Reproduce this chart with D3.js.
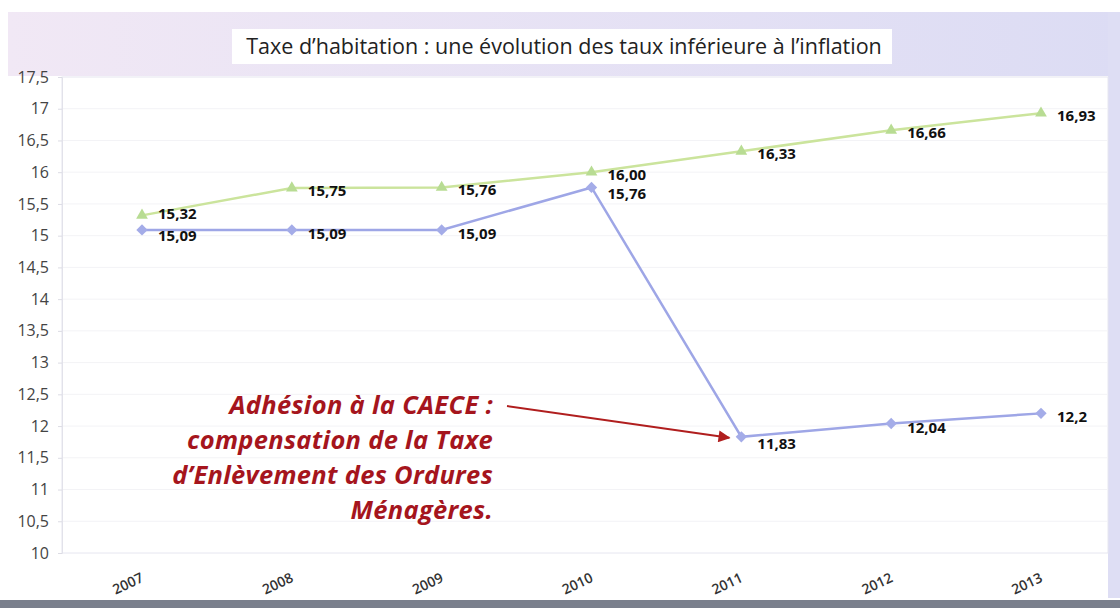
<!DOCTYPE html>
<html>
<head>
<meta charset="utf-8">
<script src="https://cdn.jsdelivr.net/npm/d3@7"></script>
<style>
  body { margin: 0; background: #fff; }
  svg { display: block; }
  text { font-family: "Open Sans", "Noto Sans", sans-serif; }
</style>
</head>
<body>
<script>
// chart data
const years = ["2007", "2008", "2009", "2010", "2011", "2012", "2013"];
const inflation = [15.32, 15.75, 15.76, 16.0, 16.33, 16.66, 16.93];
const taux = [15.09, 15.09, 15.09, 15.76, 11.83, 12.04, 12.2];
const inflationLabels = ["15,32", "15,75", "15,76", "16,00", "16,33", "16,66", "16,93"];
const tauxLabels = ["15,09", "15,09", "15,09", "15,76", "11,83", "12,04", "12,2"];
const yTicks = [10, 10.5, 11, 11.5, 12, 12.5, 13, 13.5, 14, 14.5, 15, 15.5, 16, 16.5, 17, 17.5];
const titleText = "Taxe d\u2019habitation : une évolution des taux inférieure à l\u2019inflation";
const noteLines = [
  "Adhésion à la CAECE :",
  "compensation de la Taxe",
  "d\u2019Enlèvement des Ordures",
  "Ménagères."
];

const width = 1120,
  height = 608;

const svg = d3
  .select("body")
  .append("svg")
  .attr("width", width)
  .attr("height", height);

// background pieces of the scanned page
const defs = svg.append("defs");
const grad = defs
  .append("linearGradient")
  .attr("id", "band")
  .attr("x1", "0%")
  .attr("x2", "100%");
grad.append("stop").attr("offset", "0%").attr("stop-color", "#f1e8f5");
grad.append("stop").attr("offset", "100%").attr("stop-color", "#dcdcf4");

defs
  .append("marker")
  .attr("id", "arrow")
  .attr("viewBox", "0 0 10 10")
  .attr("refX", 9)
  .attr("refY", 5)
  .attr("markerWidth", 7)
  .attr("markerHeight", 6)
  .attr("orient", "auto")
  .append("path")
  .attr("d", "M0,0L10,5L0,10z")
  .attr("fill", "#b01e1e");

svg.append("rect").attr("width", width).attr("height", height).attr("fill", "#fff");
svg
  .append("rect")
  .attr("x", 8)
  .attr("y", 12)
  .attr("width", width - 8)
  .attr("height", 64)
  .attr("fill", "url(#band)");
svg
  .append("rect")
  .attr("x", 1108)
  .attr("y", 12)
  .attr("width", 12)
  .attr("height", 586)
  .attr("fill", "#dedef4");
svg
  .append("rect")
  .attr("x", 0)
  .attr("y", 600)
  .attr("width", width)
  .attr("height", 8)
  .attr("fill", "#7a7f8c");

const x = d3.scalePoint().domain(years).range([142, 1041]);
const y = d3.scaleLinear().domain([10, 17.5]).range([553, 77]);

// plot area
svg
  .append("rect")
  .attr("x", 62)
  .attr("y", y(17.5))
  .attr("width", 1046)
  .attr("height", y(10) - y(17.5))
  .attr("fill", "#fff")
  .attr("stroke", "#e6e6f0");

svg
  .append("g")
  .selectAll("line")
  .data(yTicks.filter(d => d > 10 && d < 17.5))
  .join("line")
  .attr("x1", 62)
  .attr("x2", 1108)
  .attr("y1", d => y(d))
  .attr("y2", d => y(d))
  .attr("stroke", "#f3f3f6");

const yAxis = svg
  .append("g")
  .attr("transform", "translate(62,0)")
  .call(
    d3
      .axisLeft(y)
      .tickValues(yTicks)
      .tickSize(4)
      .tickFormat(d => d3.format("~g")(d).replace(".", ","))
  );
yAxis.select(".domain").attr("stroke", "#e2e2ea");
yAxis.selectAll(".tick line").attr("stroke", "#dcdce4");
yAxis
  .selectAll(".tick text")
  .attr("x", -13)
  .attr("fill", "#444")
  .style("font-family", "'Open Sans', sans-serif")
  .style("font-size", "16px");

// x labels
svg
  .append("g")
  .selectAll("text")
  .data(years)
  .join("text")
  .attr("transform", d => `translate(${x(d) - 12},${588}) rotate(-25)`)
  .attr("text-anchor", "middle")
  .attr("font-size", 14)
  .attr("font-weight", 600)
  .attr("fill", "#333")
  .text(d => d);

// title box
svg
  .append("rect")
  .attr("x", 232)
  .attr("y", 29)
  .attr("width", 660)
  .attr("height", 35)
  .attr("fill", "#fff");
svg
  .append("text")
  .attr("x", 564)
  .attr("y", 54)
  .attr("text-anchor", "middle")
  .attr("font-size", 21.5)
  .attr("fill", "#222")
  .text(titleText);

const line = d3
  .line()
  .x((d, i) => x(years[i]))
  .y(d => y(d));

// green series
svg
  .append("path")
  .datum(inflation)
  .attr("d", line)
  .attr("fill", "none")
  .attr("stroke", "#cbe49c")
  .attr("stroke-width", 2.5);
svg
  .append("g")
  .selectAll("path")
  .data(inflation)
  .join("path")
  .attr("transform", (d, i) => `translate(${x(years[i])},${y(d)})`)
  .attr("d", d3.symbol(d3.symbolTriangle, 60))
  .attr("fill", "#b8dc93");

// blue series
svg
  .append("path")
  .datum(taux)
  .attr("d", line)
  .attr("fill", "none")
  .attr("stroke", "#9ea6e6")
  .attr("stroke-width", 2.5);
svg
  .append("g")
  .selectAll("path")
  .data(taux)
  .join("path")
  .attr("transform", (d, i) => `translate(${x(years[i])},${y(d)}) rotate(45)`)
  .attr("d", d3.symbol(d3.symbolSquare, 64))
  .attr("fill", "#a4ace8");

// value labels
const labelGroup = svg
  .append("g")
  .attr("font-size", 15)
  .attr("font-weight", 700)
  .attr("fill", "#111");

labelGroup
  .selectAll(".lab-g")
  .data(inflation)
  .join("text")
  .attr("class", "lab-g")
  .attr("x", (d, i) => x(years[i]) + 16)
  .attr("y", (d, i) => y(d) + (i === 0 ? 4 : i === 3 ? 8 : 8))
  .text((d, i) => inflationLabels[i]);

labelGroup
  .selectAll(".lab-b")
  .data(taux)
  .join("text")
  .attr("class", "lab-b")
  .attr("x", (d, i) => x(years[i]) + 16)
  .attr("y", (d, i) => y(d) + (i === 0 ? 11 : i === 3 || i === 4 ? 12 : 9))
  .text((d, i) => tauxLabels[i]);

// annotation
const noteX = 493;
const note = svg
  .append("text")
  .attr("text-anchor", "end")
  .attr("font-size", 25.5)
  .attr("font-weight", 700)
  .attr("font-style", "italic")
  .attr("letter-spacing", 0.3)
  .attr("fill", "#a5151d");
note
  .selectAll("tspan")
  .data(noteLines)
  .join("tspan")
  .attr("x", noteX)
  .attr("y", (d, i) => 414 + i * 35)
  .text(d => d);

svg
  .append("line")
  .attr("x1", noteX + 14)
  .attr("y1", 406)
  .attr("x2", x("2011") - 12)
  .attr("y2", y(11.83) + 1)
  .attr("stroke", "#b01e1e")
  .attr("stroke-width", 2)
  .attr("marker-end", "url(#arrow)");
</script>
</body>
</html>
